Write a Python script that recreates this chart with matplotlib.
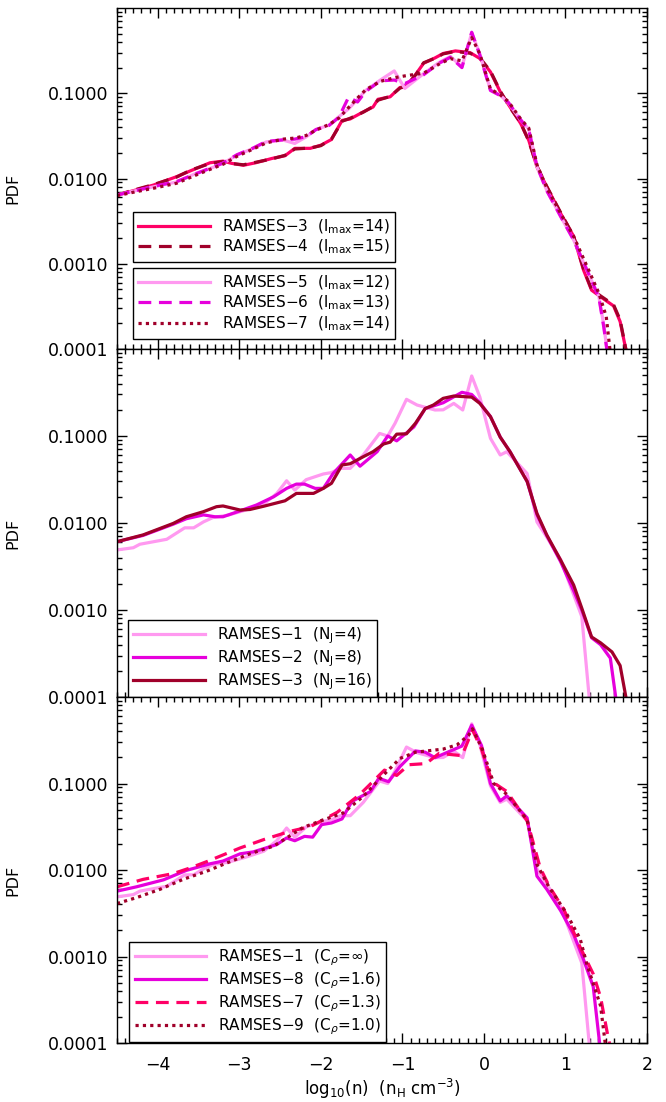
import matplotlib.pyplot as plt
from matplotlib.ticker import FixedLocator, LogLocator, NullFormatter, FormatStrFormatter, MultipleLocator

# colours of the runs
PINKRED = '#FF0066'
DARKRED = '#A0002A'
LIGHTPINK = '#FF99F0'
MAGENTA = '#E600DC'

# --- top panel: refinement level l_max ---
x_top_a = [-4.5, -4.3, -4.05, -3.77, -3.6, -3.36, -3.2, -3.1, -2.95, -2.8, -2.6, -2.44, -2.32, -2.13,
           -2.0, -1.87, -1.74, -1.64, -1.48, -1.36, -1.3, -1.15, -1.03, -0.95, -0.83, -0.74, -0.6, -0.5,
           -0.35, -0.17, -0.05, 0.08, 0.2, 0.32, 0.45, 0.55, 0.65, 0.77, 0.94, 1.1, 1.22, 1.32, 1.43,
           1.59, 1.67, 1.76]
ramses3 = [0.0064, 0.0072, 0.0084, 0.0105, 0.0123, 0.0153, 0.016, 0.0151, 0.0143, 0.0153, 0.0172, 0.0185,
           0.0226, 0.0226, 0.0246, 0.0287, 0.048, 0.05, 0.0605, 0.069, 0.085, 0.091, 0.117, 0.12, 0.17,
           0.225, 0.26, 0.293, 0.314, 0.30, 0.256, 0.178, 0.104, 0.069, 0.0443, 0.028, 0.0137, 0.008,
           0.0039, 0.0021, 0.00085, 0.00049, 0.00041, 0.00032, 0.00021, 0.00008]
ramses4 = [0.0064, 0.0073, 0.0085, 0.0104, 0.0125, 0.0150, 0.0158, 0.0150, 0.0145, 0.0155, 0.0170, 0.0187,
           0.0222, 0.0228, 0.0243, 0.0290, 0.047, 0.051, 0.060, 0.070, 0.083, 0.092, 0.115, 0.122, 0.168,
           0.228, 0.258, 0.290, 0.310, 0.295, 0.26, 0.182, 0.106, 0.068, 0.045, 0.0275, 0.014, 0.0081,
           0.004, 0.0021, 0.00088, 0.0005, 0.00042, 0.00033, 0.00022, 0.00008]

x_top_b = [-4.5, -4.3, -4.05, -3.77, -3.53, -3.36, -3.2, -3.03, -2.83, -2.67, -2.46, -2.32, -2.18, -2.06,
           -1.9, -1.78, -1.66, -1.55, -1.45, -1.27, -1.1, -0.97, -0.74, -0.55, -0.41, -0.27, -0.15, -0.05,
           0.08, 0.2, 0.3, 0.45, 0.55, 0.65, 0.77, 0.94, 1.1, 1.26, 1.41, 1.47, 1.52]
ramses5 = [0.0064, 0.0071, 0.008, 0.0091, 0.0115, 0.0131, 0.0151, 0.0188, 0.0226, 0.0269, 0.0282, 0.0258,
           0.0308, 0.0377, 0.0422, 0.053, 0.0655, 0.085, 0.108, 0.143, 0.183, 0.114, 0.17, 0.23, 0.27,
           0.204, 0.51, 0.29, 0.109, 0.095, 0.077, 0.0485, 0.038, 0.0137, 0.0073, 0.0036, 0.0019, 0.00085,
           0.00041, 0.00019, 0.00008]
ramses6 = [0.0064, 0.0071, 0.0081, 0.0092, 0.0114, 0.0132, 0.0152, 0.0190, 0.0228, 0.0272, 0.0285, 0.029,
           0.031, 0.0375, 0.042, 0.052, 0.09, 0.079, 0.105, 0.14, 0.143, 0.13, 0.165, 0.225, 0.265, 0.2,
           0.52, 0.28, 0.108, 0.094, 0.078, 0.049, 0.037, 0.014, 0.0072, 0.0036, 0.0019, 0.00086, 0.0004,
           0.00018, 0.00008]
x_top_c = [-4.5, -4.3, -4.05, -3.77, -3.53, -3.36, -3.2, -3.03, -2.83, -2.67, -2.46, -2.32, -2.18, -2.06,
           -1.9, -1.78, -1.66, -1.55, -1.45, -1.27, -1.1, -0.97, -0.74, -0.55, -0.41, -0.27, -0.15, -0.05,
           0.08, 0.2, 0.3, 0.45, 0.55, 0.65, 0.77, 0.94, 1.1, 1.26, 1.41, 1.5, 1.55]
ramses7_top = [0.0063, 0.0069, 0.0077, 0.0088, 0.011, 0.0128, 0.0147, 0.0182, 0.0222, 0.0262, 0.029, 0.0298,
               0.032, 0.037, 0.043, 0.051, 0.068, 0.088, 0.11, 0.138, 0.152, 0.16, 0.172, 0.22, 0.255,
               0.24, 0.45, 0.29, 0.112, 0.096, 0.08, 0.05, 0.039, 0.0145, 0.0078, 0.0039, 0.0021, 0.00095,
               0.00045, 0.00024, 0.00009]

# --- middle panel: Jeans resolution N_J ---
x_r1 = [-4.5, -4.3, -4.22, -4.05, -3.89, -3.67, -3.56, -3.44, -3.32, -3.14, -2.93, -2.7, -2.54, -2.42,
        -2.32, -2.18, -1.97, -1.87, -1.76, -1.64, -1.48, -1.28, -1.18, -1.09, -0.95, -0.82, -0.6, -0.5,
        -0.37, -0.26, -0.15, -0.05, 0.08, 0.2, 0.28, 0.53, 0.65, 0.77, 0.94, 1.1, 1.2, 1.3]
ramses1 = [0.0049, 0.0052, 0.0057, 0.0061, 0.0065, 0.0088, 0.0088, 0.0103, 0.0116, 0.0123, 0.014, 0.0165,
           0.0219, 0.0306, 0.0239, 0.0315, 0.0366, 0.038, 0.0425, 0.0425, 0.0605, 0.107, 0.1, 0.14, 0.264,
           0.227, 0.199, 0.2, 0.237, 0.199, 0.49, 0.28, 0.094, 0.0605, 0.066, 0.037, 0.0103, 0.0069,
           0.0038, 0.0015, 0.00084, 0.00008]
x_r2 = [-4.5, -4.18, -3.81, -3.65, -3.44, -3.3, -3.2, -2.99, -2.79, -2.58, -2.42, -2.3, -2.2, -2.07, -1.97,
        -1.85, -1.64, -1.52, -1.31, -1.18, -1.07, -0.86, -0.72, -0.5, -0.27, -0.15, -0.05, 0.08, 0.2, 0.32,
        0.53, 0.65, 0.77, 0.94, 1.1, 1.2, 1.32, 1.43, 1.55, 1.63]
ramses2 = [0.0061, 0.0072, 0.0097, 0.0112, 0.0124, 0.0118, 0.0118, 0.0138, 0.0161, 0.02, 0.025, 0.028,
           0.028, 0.025, 0.025, 0.037, 0.0605, 0.045, 0.066, 0.1, 0.088, 0.127, 0.207, 0.241, 0.318, 0.3,
           0.24, 0.167, 0.097, 0.066, 0.03, 0.0125, 0.0072, 0.0036, 0.00167, 0.001, 0.00048, 0.0004,
           0.00028, 0.00008]
x_r3 = [-4.5, -4.18, -3.81, -3.65, -3.44, -3.28, -3.2, -2.99, -2.87, -2.7, -2.44, -2.3, -2.09, -1.97, -1.87,
        -1.74, -1.64, -1.48, -1.36, -1.23, -1.15, -1.07, -0.95, -0.84, -0.72, -0.62, -0.5, -0.37, -0.15,
        -0.05, 0.08, 0.2, 0.32, 0.53, 0.65, 0.77, 0.94, 1.1, 1.2, 1.32, 1.43, 1.57, 1.67, 1.76]
ramses3_mid = [0.0061, 0.0073, 0.0099, 0.0118, 0.0135, 0.0154, 0.0157, 0.0141, 0.0143, 0.0156, 0.018,
               0.0219, 0.0219, 0.025, 0.0286, 0.0465, 0.048, 0.0578, 0.066, 0.081, 0.085, 0.105, 0.106,
               0.14, 0.207, 0.227, 0.271, 0.288, 0.28, 0.237, 0.167, 0.097, 0.066, 0.03, 0.0129, 0.0073,
               0.00376, 0.00194, 0.00105, 0.00049, 0.00042, 0.00033, 0.00023, 0.00008]

# --- bottom panel: C_rho ---
x_r8 = [-4.5, -4.26, -3.93, -3.65, -3.36, -3.2, -2.99, -2.83, -2.54, -2.42, -2.32, -2.2, -2.1, -1.99, -1.87,
        -1.74, -1.62, -1.39, -1.29, -1.17, -1.03, -0.84, -0.72, -0.6, -0.41, -0.27, -0.15, -0.03, 0.08,
        0.2, 0.28, 0.53, 0.65, 0.77, 0.94, 1.1, 1.22, 1.34, 1.43]
ramses8 = [0.0057, 0.0064, 0.0077, 0.0099, 0.0118, 0.0127, 0.0154, 0.0162, 0.0197, 0.0235, 0.0218, 0.0245,
           0.024, 0.0335, 0.035, 0.039, 0.062, 0.081, 0.115, 0.105, 0.157, 0.238, 0.23, 0.199, 0.238,
           0.271, 0.473, 0.275, 0.1, 0.063, 0.072, 0.04, 0.0085, 0.006, 0.0034, 0.0018, 0.00093, 0.00045,
           0.00008]
x_r7 = [-4.5, -4.18, -3.81, -3.6, -3.4, -2.99, -2.7, -2.38, -2.13, -1.8, -1.52, -1.22, -1.07, -0.92, -0.71,
        -0.55, -0.27, -0.14, -0.03, 0.1, 0.28, 0.53, 0.69, 0.8, 0.98, 1.18, 1.34, 1.43, 1.51, 1.56]
ramses7 = [0.0064, 0.0078, 0.0091, 0.0106, 0.0125, 0.018, 0.0225, 0.028, 0.0317, 0.0465, 0.075, 0.143,
           0.124, 0.165, 0.17, 0.223, 0.21, 0.414, 0.25, 0.105, 0.081, 0.037, 0.0106, 0.0065, 0.0035,
           0.00128, 0.00063, 0.00034, 0.000135, 0.00008]
x_r9 = [-4.5, -4.26, -3.97, -3.69, -3.4, -3.15, -2.87, -2.58, -2.42, -2.22, -1.97, -1.73, -1.48, -1.23,
        -1.03, -0.84, -0.5, -0.33, -0.19, -0.14, -0.02, 0.12, 0.28, 0.53, 0.65, 0.8, 1.0, 1.18, 1.26, 1.43,
        1.5]
ramses9 = [0.0041, 0.0048, 0.006, 0.0078, 0.0097, 0.0121, 0.0154, 0.0189, 0.0235, 0.031, 0.038, 0.0455,
           0.071, 0.126, 0.195, 0.23, 0.25, 0.28, 0.36, 0.43, 0.25, 0.1, 0.075, 0.038, 0.0116, 0.0063,
           0.0033, 0.0016, 0.00083, 0.00027, 0.00008]

LW = 2.3
DASH = (0, (4, 2.4))
DOT = (0, (1, 1.3))

fig = plt.figure(figsize=(6.66, 11.02), dpi=100)
left, width = 0.1757, 0.7958
ax_top = fig.add_axes([left, 0.6833, width, 0.3094])
ax_mid = fig.add_axes([left, 0.3675, width, 0.3158])
ax_bot = fig.add_axes([left, 0.0535, width, 0.3140])


def style_axis(ax, show_x):
    ax.set_yscale('log')
    ax.set_xlim(-4.5, 2.0)
    ax.set_ylim(1e-4, 1.0)
    ax.yaxis.set_major_locator(FixedLocator([1e-4, 1e-3, 1e-2, 1e-1]))
    ax.yaxis.set_minor_locator(LogLocator(base=10, subs=range(2, 10), numticks=20))
    ax.yaxis.set_major_formatter(FormatStrFormatter('%.4f'))
    ax.yaxis.set_minor_formatter(NullFormatter())
    ax.xaxis.set_major_locator(MultipleLocator(1))
    ax.xaxis.set_minor_locator(MultipleLocator(0.1))
    ax.tick_params(which='both', direction='in', top=True, right=True, width=1.0, labelsize=12.5)
    ax.tick_params(which='major', length=7)
    ax.tick_params(which='minor', length=3.5)
    ax.tick_params(axis='y', which='major', pad=6)
    ax.tick_params(axis='x', which='major', pad=9)
    if not show_x:
        ax.tick_params(axis='x', labelbottom=False)
    for s in ax.spines.values():
        s.set_linewidth(1.0)
    ax.set_ylabel('PDF', fontsize=11.5)
    ax.yaxis.set_label_coords(-0.183, 0.47)


def make_legend(ax, handles, anchor):
    leg = ax.legend(handles=handles, loc='upper left', bbox_to_anchor=anchor, borderaxespad=0,
                    fontsize=11, frameon=True, fancybox=False, edgecolor='black', framealpha=1,
                    handlelength=4.7, handletextpad=0.75, labelspacing=0.15, borderpad=0.35)
    leg.get_frame().set_linewidth(1.0)
    return leg


# top panel
h3, = ax_top.plot(x_top_a, ramses3, color=PINKRED, lw=LW, label='RAMSES\u22123  (l$_{\\rm max}$=14)')
h4, = ax_top.plot(x_top_a, ramses4, color=DARKRED, lw=LW, ls=DASH, label='RAMSES\u22124  (l$_{\\rm max}$=15)')
h5, = ax_top.plot(x_top_b, ramses5, color=LIGHTPINK, lw=LW, label='RAMSES\u22125  (l$_{\\rm max}$=12)')
h6, = ax_top.plot(x_top_b, ramses6, color=MAGENTA, lw=LW, ls=DASH, label='RAMSES\u22126  (l$_{\\rm max}$=13)')
h7, = ax_top.plot(x_top_c, ramses7_top, color=DARKRED, lw=LW, ls=DOT, label='RAMSES\u22127  (l$_{\\rm max}$=14)')
style_axis(ax_top, False)
leg1 = make_legend(ax_top, [h3, h4], (0.030, 0.402))
ax_top.add_artist(leg1)
make_legend(ax_top, [h5, h6, h7], (0.030, 0.2375))

# middle panel
ax_mid.plot(x_r1, ramses1, color=LIGHTPINK, lw=LW, label='RAMSES\u22121  (N$_{\\rm J}$=4)')
ax_mid.plot(x_r2, ramses2, color=MAGENTA, lw=LW, label='RAMSES\u22122  (N$_{\\rm J}$=8)')
ax_mid.plot(x_r3, ramses3_mid, color=DARKRED, lw=LW, label='RAMSES\u22123  (N$_{\\rm J}$=16)')
style_axis(ax_mid, False)
make_legend(ax_mid, ax_mid.get_lines(), (0.021, 0.221))

# bottom panel
ax_bot.plot(x_r1, ramses1, color=LIGHTPINK, lw=LW, label='RAMSES\u22121  (C$_\\rho$=\u221e)')
ax_bot.plot(x_r8, ramses8, color=MAGENTA, lw=LW, label='RAMSES\u22128  (C$_\\rho$=1.6)')
ax_bot.plot(x_r7, ramses7, color=PINKRED, lw=LW, ls=DASH, label='RAMSES\u22127  (C$_\\rho$=1.3)')
ax_bot.plot(x_r9, ramses9, color=DARKRED, lw=LW, ls=DOT, label='RAMSES\u22129  (C$_\\rho$=1.0)')
style_axis(ax_bot, True)
make_legend(ax_bot, ax_bot.get_lines(), (0.023, 0.292))
ax_bot.set_xlabel('log$_{10}$(n)  (n$_{\\rm H}$ cm$^{-3}$)', fontsize=12)
ax_bot.xaxis.set_label_coords(0.5, -0.097)

fig.savefig('out.png', dpi=100)
